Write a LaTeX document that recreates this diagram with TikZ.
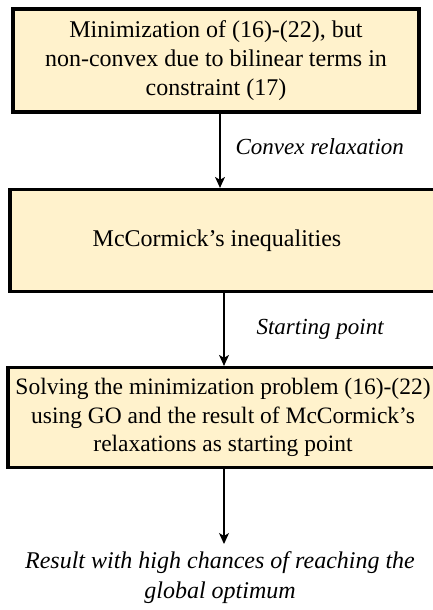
\documentclass[tikz,border=0pt]{standalone}
\usepackage{fontspec}
\setmainfont{Liberation Serif}
\usetikzlibrary{arrows.meta}
\definecolor{boxfill}{HTML}{FFF2CC}
\begin{document}
\begin{tikzpicture}[x=1pt,y=-1pt,
  stagebox/.style={draw=black,line width=3.2pt,fill=boxfill,rectangle,
    inner sep=0pt,align=center,font=\fontsize{24}{29}\selectfont},
  flow/.style={line width=1.1pt,-{Stealth[length=11pt,width=10pt,inset=3pt]}},
  edgetext/.style={font=\fontsize{23}{28}\selectfont\itshape,anchor=west,inner sep=0pt}]
\useasboundingbox (0,0) rectangle (433,610);

% the three stages
\node[stagebox,minimum width=406pt,minimum height=103pt] (relaxed) at (216,60.5)
  {Minimization of (16)-(22), but\\non-convex due to bilinear terms in\\constraint (17)};
\node[stagebox,minimum width=430pt,minimum height=102pt,
  label={[name=mcctext,inner sep=0pt,xshift=-8pt,font=\fontsize{24}{29}\selectfont]center:McCormick’s inequalities}]
  (mcc) at (225,240.5) {};
\node[stagebox,minimum width=432pt,minimum height=100pt,
  font=\fontsize{23.5}{28.5}\selectfont,
  label={[name=solvetext,inner sep=0pt,align=center,xshift=-1pt,font=\fontsize{23.5}{28.5}\selectfont]center:Solving the minimization problem (16)-(22)\\using GO and the result of McCormick’s\\relaxations as starting point}]
  (solve) at (224,417.5) {};

% final outcome
\node[font=\fontsize{24}{30}\selectfont\itshape,align=center,inner sep=0pt,anchor=north]
  (result) at (220,551) {Result with high chances of reaching the\\global optimum};

% connectors
\coordinate (axisA) at (220,0);
\coordinate (axisB) at (224,0);
\draw[flow] (relaxed.south -| axisA) -- (mcc.north -| axisA)
  node[edgetext,pos=0.45,xshift=15pt] (lblA) {Convex relaxation};
\draw[flow] (mcc.south -| axisB) -- (solve.north -| axisB)
  node[edgetext,pos=0.5,xshift=32pt] (lblB) {Starting point};
\draw[flow,shorten >=7pt] (solve.south -| axisB) -- (result.north -| axisB);
\end{tikzpicture}
\end{document}
